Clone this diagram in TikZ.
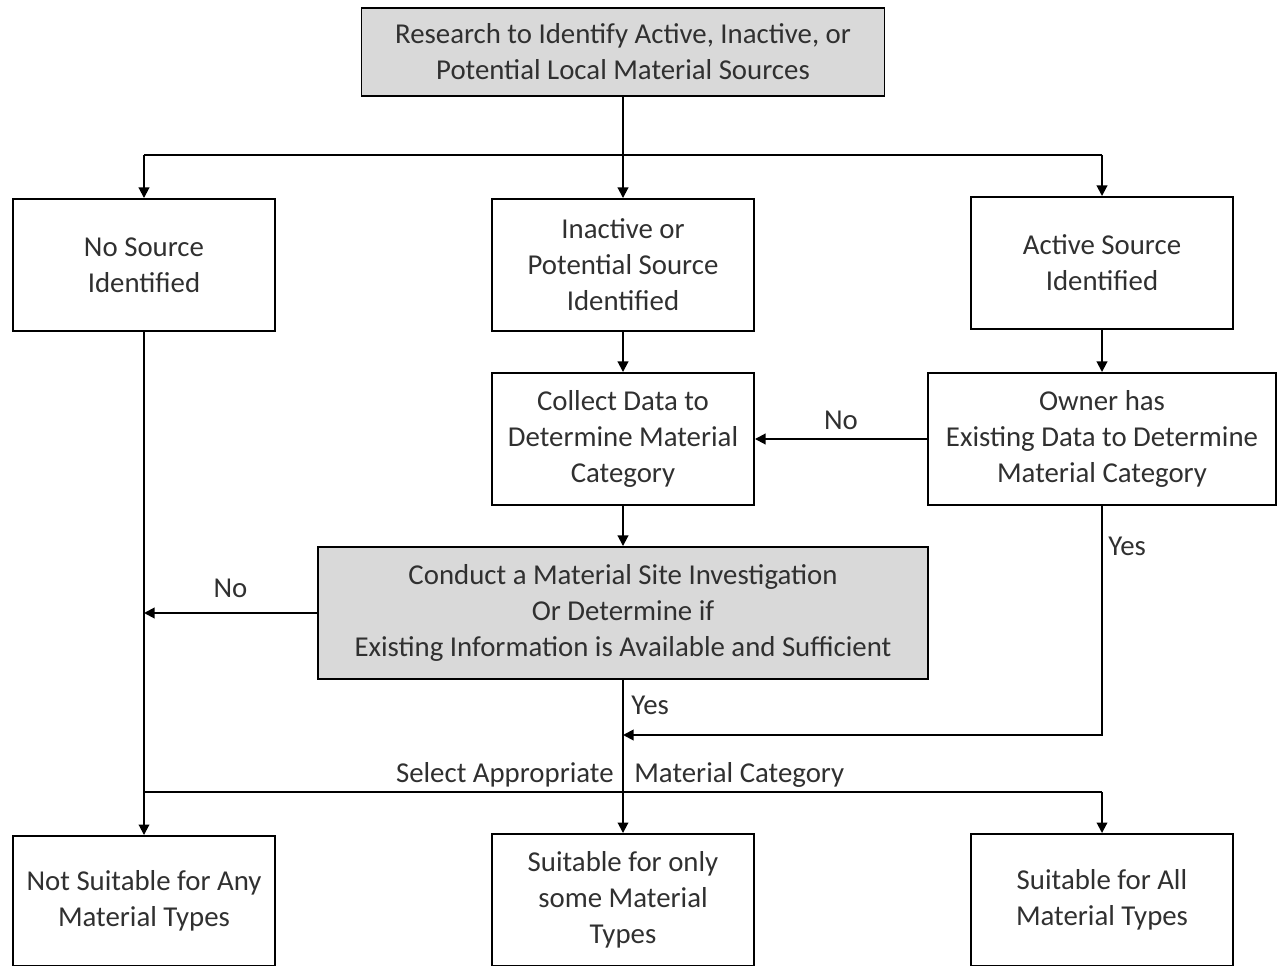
\documentclass[tikz,border=0pt]{standalone}
\usepackage{fontspec}
\setmainfont{Carlito}
\usetikzlibrary{arrows.meta}
\definecolor{boxgray}{HTML}{D9D9D9}
\definecolor{inkgray}{HTML}{303030}
\tikzset{
  box/.style={draw=black,line width=1.1pt,align=center,text=inkgray,
    minimum width=#1*0.02cm,minimum height=132*0.02cm,inner sep=0pt},
  box/.default=262,
  shaded/.style={fill=boxgray},
  flow/.style={line width=1.1pt,-{Triangle[length=6pt,width=6pt]}},
  line/.style={line width=1.1pt},
  lbl/.style={text=inkgray,inner sep=0pt}
}
\begin{document}
\begin{tikzpicture}[x=0.02cm,y=-0.02cm,font=\fontsize{16.4}{20.5}\selectfont]
  \useasboundingbox (0,0) rectangle (1284,966);
  % sources
  \node[box=523,shaded,minimum height=88*0.02cm] (research) at (623,52)
    {Research to Identify Active, Inactive, or\\Potential Local Material Sources};
  \node[box] (nosrc) at (144,265) {No Source\\Identified};
  \node[box] (inact) at (623,265) {Inactive or\\Potential Source\\Identified};
  \node[box] (act) at (1102,263) {Active Source\\Identified};
  % data
  \node[box] (collect) at (623,439) {Collect Data to\\Determine Material\\Category};
  \node[box=348] (owner) at (1102,439) {Owner has\\Existing Data to Determine\\Material Category};
  \node[box=610,shaded] (conduct) at (623,613)
    {Conduct a Material Site Investigation\\Or Determine if\\Existing Information is Available and Sufficient};
  % categories
  \node[box,minimum height=130*0.02cm] (notsuit) at (144,901) {Not Suitable for Any\\Material Types};
  \node[box] (some) at (623,900) {Suitable for only\\some Material\\Types};
  \node[box] (all) at (1102,900) {Suitable for All\\Material Types};
  \coordinate (split) at (623,155);
  \coordinate (splitL) at (144,155);
  \coordinate (splitR) at (1102,155);
  \coordinate (noend) at (144,613);
  \coordinate (yesturn) at (1102,735);
  \coordinate (yesend) at (623,735);
  \coordinate (selL) at (144,792);
  \coordinate (selR) at (1102,792);
  \draw[line] (research.south) -- (split);
  \draw[line] (splitL) -- (splitR);
  \draw[flow] (splitL) -- (nosrc.north);
  \draw[flow] (split) -- (inact.north);
  \draw[flow] (splitR) -- (act.north);
  \draw[flow] (inact.south) -- (collect.north);
  \draw[flow] (act.south) -- (owner.north);
  \draw[flow] (owner.west) -- node[lbl,above=5pt] {No} (collect.east);
  \draw[flow] (collect.south) -- (conduct.north);
  \draw[flow] (conduct.west) -- node[lbl,above=8pt] {No} (noend);
  \draw[flow] (nosrc.south) -- (notsuit.north);
  \draw[flow] (conduct.south) -- (some.north);
  \draw[flow] (owner.south) -- (yesturn) -- (yesend);
  \draw[line] (selL) -- (selR);
  \draw[flow] (selR) -- (all.north);
  \node[lbl,anchor=west] (yes1) at (631,705) {Yes};
  \node[lbl,anchor=west] (yes2) at (1108,546) {Yes};
  \node[lbl,anchor=east] (sel1) at (614,775) {Select Appropriate};
  \node[lbl,anchor=west] (sel2) at (634,775) {Material Category};
\end{tikzpicture}
\end{document}
